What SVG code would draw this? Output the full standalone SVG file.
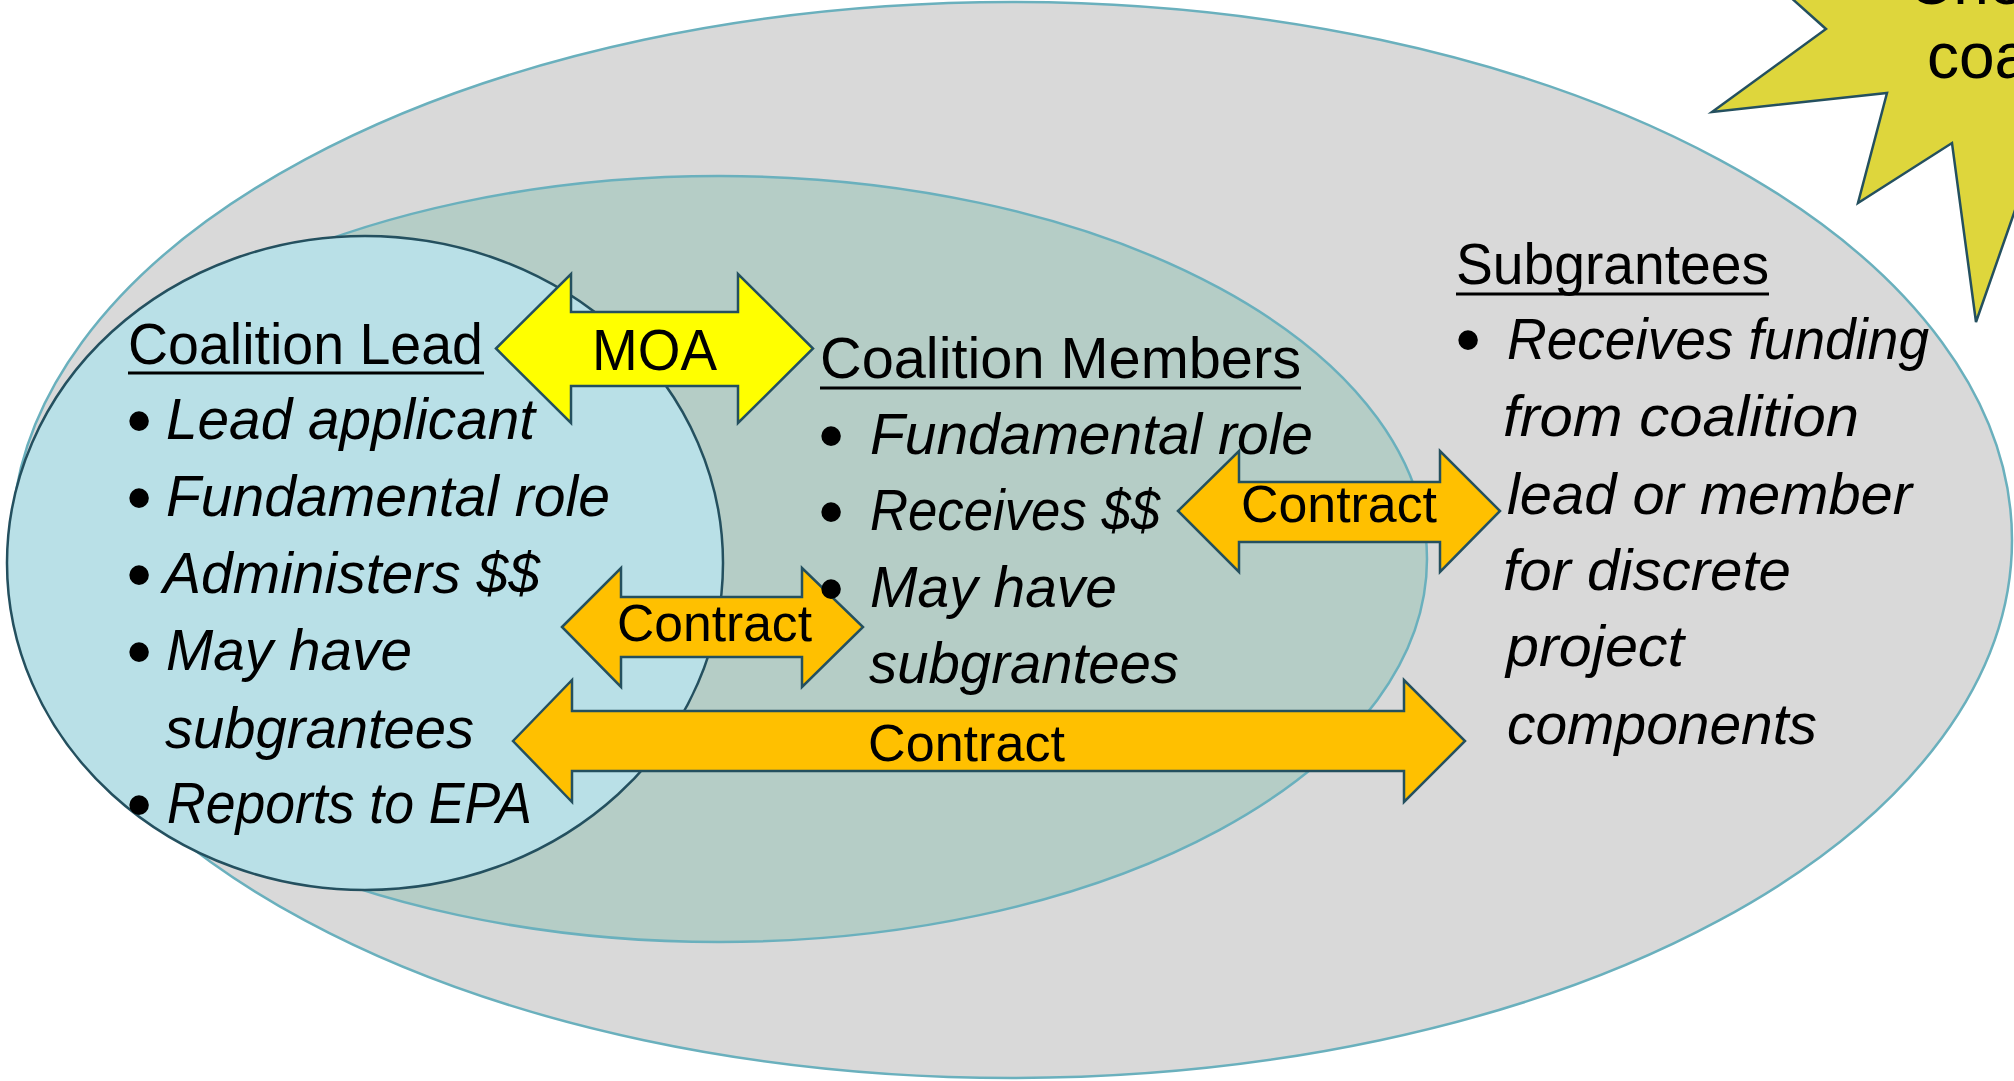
<svg xmlns="http://www.w3.org/2000/svg" width="2014" height="1081" viewBox="0 0 2014 1081">
<style>
  .t { font-family: "Liberation Sans", Arial, sans-serif; fill: #000; }
  .hd { font-size: 57px; }
  .it { font-size: 57px; font-style: italic; }
  .bl { font-size: 72px; }
  .lbl { font-size: 52px; }
  .moa { font-size: 58px; }
  .ul { stroke: #000; stroke-width: 3; }
  .arrowY { fill: #FFFF00; stroke: #24505F; stroke-width: 2.5; stroke-linejoin: miter; }
  .arrowO { fill: #FFC000; stroke: #24505F; stroke-width: 2.5; stroke-linejoin: miter; }
</style>
<rect x="0" y="0" width="2014" height="1081" fill="#FFFFFF"/>

<g id="subgrantees-area">
  <ellipse cx="1012" cy="540" rx="1000" ry="538" fill="#D9D9D9" stroke="#6AB0BD" stroke-width="2.5"/>
</g>
<g id="members-area">
  <ellipse cx="719" cy="559" rx="708" ry="383" fill="#B5CDC6" stroke="#6AB0BD" stroke-width="2.5"/>
</g>
<g id="lead-area">
  <ellipse cx="365" cy="563" rx="358" ry="327" fill="#B9E0E7" stroke="#24505F" stroke-width="2.5"/>
</g>

<g id="starburst">
  <polygon points="1760,-30 1826,29 1712,112 1887,93 1858,203 1952,143 1976,322 2050,110 2050,-30" fill="#DED63C" stroke="#24505F" stroke-width="2.5" stroke-linejoin="miter"/>
  <text class="t" x="1907" y="4" style="font-size:64px">Chec</text>
  <text class="t" x="1927" y="78" style="font-size:64px">coa</text>
</g>

<g id="coalition-lead">
  <text class="t hd" x="128" y="364" textLength="355" lengthAdjust="spacingAndGlyphs">Coalition Lead</text>
  <line class="ul" x1="128" y1="373" x2="484" y2="373"/>
  <text class="t bl" x="139" y="445" text-anchor="middle">•</text>
  <text class="t it" x="166" y="439" textLength="369" lengthAdjust="spacingAndGlyphs">Lead applicant</text>
  <text class="t bl" x="139" y="522" text-anchor="middle">•</text>
  <text class="t it" x="166" y="516" textLength="444" lengthAdjust="spacingAndGlyphs">Fundamental role</text>
  <text class="t bl" x="139" y="599" text-anchor="middle">•</text>
  <text class="t it" x="163" y="593" textLength="377" lengthAdjust="spacingAndGlyphs">Administers $$</text>
  <text class="t bl" x="139" y="676" text-anchor="middle">•</text>
  <text class="t it" x="166" y="670" textLength="246" lengthAdjust="spacingAndGlyphs">May have</text>
  <text class="t it" x="165" y="748" textLength="309" lengthAdjust="spacingAndGlyphs">subgrantees</text>
  <text class="t bl" x="139" y="829" text-anchor="middle">•</text>
  <text class="t it" x="167" y="823" textLength="365" lengthAdjust="spacingAndGlyphs">Reports to EPA</text>
</g>

<g id="connectors">
  <g id="contract-lead-members">
    <polygon class="arrowO" points="562,627 621,568 621,597 802,597 802,568 863,627 802,687 802,657 621,657 621,687"/>
    <text class="t lbl" x="617" y="641" textLength="195" lengthAdjust="spacingAndGlyphs">Contract</text>
  </g>
</g>

<g id="coalition-members">
  <text class="t hd" x="820" y="378" textLength="481" lengthAdjust="spacingAndGlyphs">Coalition Members</text>
  <line class="ul" x1="820" y1="388" x2="1301" y2="388"/>
  <text class="t bl" x="831" y="460" text-anchor="middle">•</text>
  <text class="t it" x="870" y="454" textLength="443" lengthAdjust="spacingAndGlyphs">Fundamental role</text>
  <text class="t bl" x="831" y="536" text-anchor="middle">•</text>
  <text class="t it" x="870" y="530" textLength="290" lengthAdjust="spacingAndGlyphs">Receives $$</text>
  <text class="t bl" x="831" y="613" text-anchor="middle">•</text>
  <text class="t it" x="870" y="607" textLength="247" lengthAdjust="spacingAndGlyphs">May have</text>
  <text class="t it" x="869" y="683" textLength="310" lengthAdjust="spacingAndGlyphs">subgrantees</text>
</g>

<g id="subgrantees">
  <text class="t hd" x="1456" y="284" textLength="313" lengthAdjust="spacingAndGlyphs">Subgrantees</text>
  <line class="ul" x1="1456" y1="294" x2="1769" y2="294"/>
  <text class="t bl" x="1468" y="364" text-anchor="middle">•</text>
  <text class="t it" x="1507" y="359" textLength="422" lengthAdjust="spacingAndGlyphs">Receives funding</text>
  <text class="t it" x="1503" y="436" textLength="356" lengthAdjust="spacingAndGlyphs">from coalition</text>
  <text class="t it" x="1507" y="514" textLength="405" lengthAdjust="spacingAndGlyphs">lead or member</text>
  <text class="t it" x="1503" y="590" textLength="288" lengthAdjust="spacingAndGlyphs">for discrete</text>
  <text class="t it" x="1506" y="666" textLength="178" lengthAdjust="spacingAndGlyphs">project</text>
  <text class="t it" x="1507" y="744" textLength="310" lengthAdjust="spacingAndGlyphs">components</text>
</g>

<g id="connectors-2">
  <g id="moa-lead-members">
    <polygon class="arrowY" points="496,348.5 571,274 571,312 738,312 738,274 813,348.5 738,423 738,386 571,386 571,423"/>
    <text class="t moa" x="592" y="370" textLength="125" lengthAdjust="spacingAndGlyphs">MOA</text>
  </g>
  <g id="contract-members-subgrantees">
    <polygon class="arrowO" points="1178,511 1239,451 1239,482 1440,482 1440,451 1500,511 1440,572 1440,542 1239,542 1239,572"/>
    <text class="t lbl" x="1241" y="522" textLength="196" lengthAdjust="spacingAndGlyphs">Contract</text>
  </g>
  <g id="contract-lead-subgrantees">
    <polygon class="arrowO" points="513,741 572,680 572,711 1404,711 1404,680 1465,741 1404,802 1404,771 572,771 572,802"/>
    <text class="t lbl" x="868" y="761" textLength="197" lengthAdjust="spacingAndGlyphs">Contract</text>
  </g>
</g>
</svg>
